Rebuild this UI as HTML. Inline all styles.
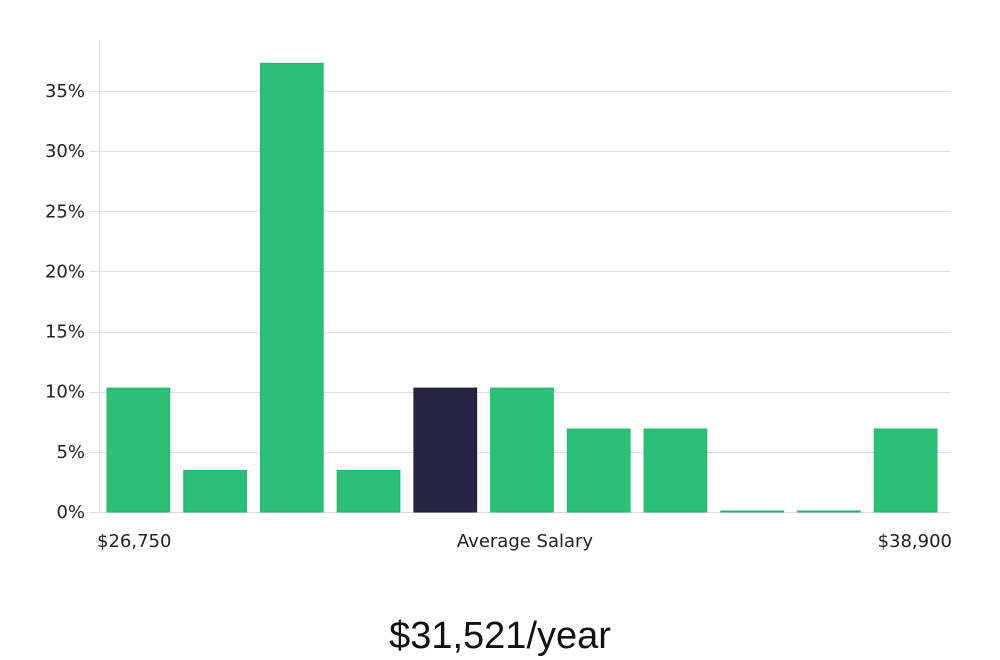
<!DOCTYPE html>
<html><head><meta charset="utf-8"><style>
html,body{margin:0;padding:0;background:#fff;}
svg{display:block;}
</style></head><body>
<svg id="chart" width="1000" height="660" xmlns="http://www.w3.org/2000/svg">
<g id="grid"></g>
<g id="bars"></g>
<g id="yticks"></g>
<line x1="99.5" y1="40" x2="99.5" y2="512" stroke="#ddd" stroke-width="1"/>
<g font-family="DejaVu Sans, Liberation Sans, sans-serif" font-size="18" fill="#222">
<text x="97" y="547">$26,750</text>
<text x="525" y="547" text-anchor="middle">Average Salary</text>
<text x="952" y="547" text-anchor="end">$38,900</text>
</g>
<text x="500" y="648" text-anchor="middle" font-family="Liberation Sans, sans-serif" font-weight="300" font-size="38" fill="#111">$31,521/year</text>
</svg>
<script>
const categories = ["b1","b2","b3","b4","b5","b6","b7","b8","b9","b10","b11"];
const values = [10.3, 3.45, 37.3, 3.45, 10.3, 10.3, 6.9, 6.9, 0, 0, 6.9];
const highlight = [false,false,false,false,true,false,false,false,false,false,false];
const yTicks = [0,5,10,15,20,25,30,35];
const yTickLabels = ["0%","5%","10%","15%","20%","25%","30%","35%"];

const NS = "http://www.w3.org/2000/svg";
const plotLeft = 103, plotRight = 947, y0 = 512, pxPerUnit = (512 - 91) / 35;
function yScale(v){ return y0 - v * pxPerUnit; }
const step = (plotRight - plotLeft) / categories.length;
function xScale(i){ return plotLeft + i * step + 4; }
const barW = step - 14;

const grid = document.getElementById('grid');
const yt = document.getElementById('yticks');
yTicks.forEach((t,i)=>{
  const y = Math.round(yScale(t)) + 0.5;
  const l = document.createElementNS(NS,'line');
  l.setAttribute('x1',90); l.setAttribute('x2',950);
  l.setAttribute('y1',y); l.setAttribute('y2',y);
  l.setAttribute('stroke','#ddd'); l.setAttribute('stroke-width',1);
  
  
  grid.appendChild(l);
  const tx = document.createElementNS(NS,'text');
  tx.setAttribute('x',85); tx.setAttribute('y',yScale(t)+6);
  tx.setAttribute('text-anchor','end');
  tx.setAttribute('font-family','DejaVu Sans, Liberation Sans, sans-serif');
  tx.setAttribute('font-size','18'); tx.setAttribute('fill','#222');
  tx.textContent = yTickLabels[i];
  
  
  yt.appendChild(tx);
});
const bars = document.getElementById('bars');
values.forEach((v,i)=>{
  const r = document.createElementNS(NS,'rect');
  const top = yScale(v);
  const h = Math.max(1, y0 - top);
  r.setAttribute('x', xScale(i)); r.setAttribute('y', y0 - h);
  r.setAttribute('width', barW); r.setAttribute('height', h);
  r.setAttribute('fill', highlight[i] ? '#272445' : '#2bbf78');
  r.setAttribute('stroke', highlight[i] ? '#1e1b3a' : '#22b46c');
  r.setAttribute('stroke-width', 1);
  
  
  bars.appendChild(r);
});
</script>
</body></html>
